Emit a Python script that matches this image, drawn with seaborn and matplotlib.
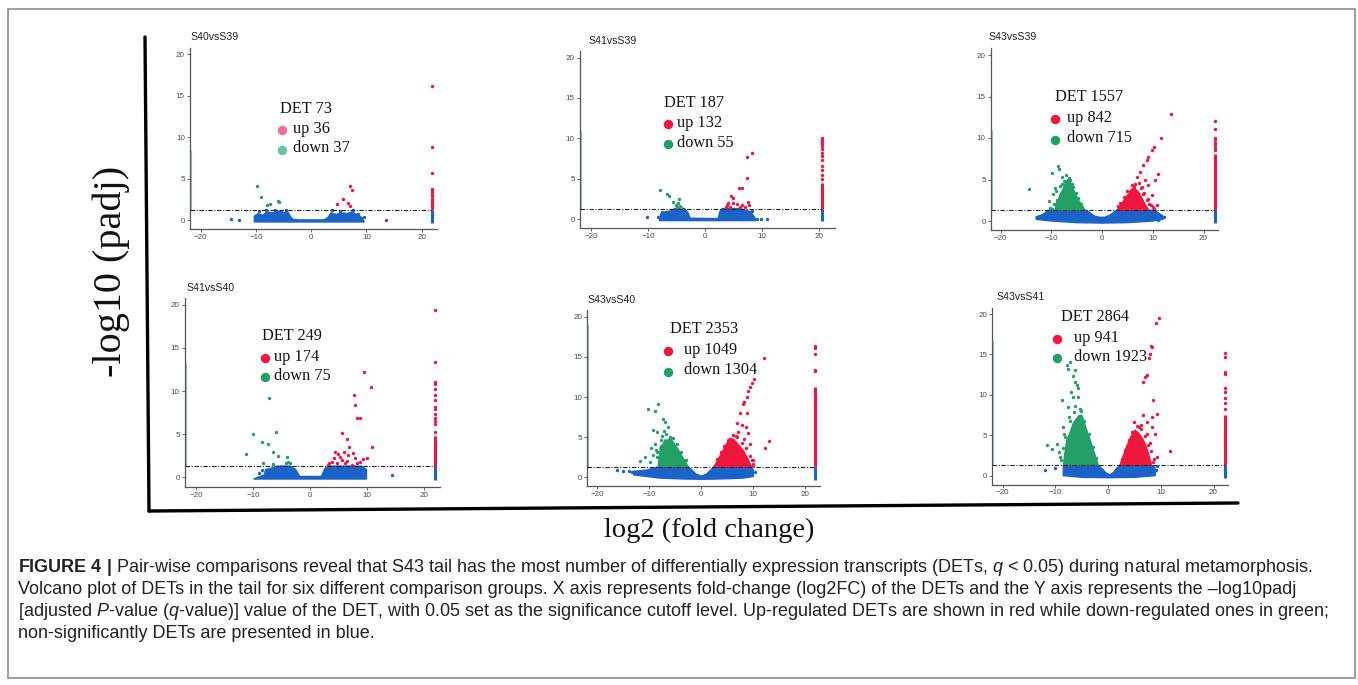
import numpy as np
import matplotlib
matplotlib.use("Agg")
import matplotlib.pyplot as plt
import seaborn as sns
from matplotlib.lines import Line2D
from matplotlib.patches import Rectangle

# ---- data ---------------------------------------------------------------
panels = ["S40vsS39", "S41vsS39", "S43vsS39", "S41vsS40", "S43vsS40", "S43vsS41"]
det_total = [73, 187, 1557, 249, 2353, 2864]
det_up = [36, 132, 842, 174, 1049, 941]
det_down = [37, 55, 715, 75, 1304, 1923]

padj_cut = -np.log10(0.05)
x_ticks = [-20, -10, 0, 10, 20]
y_ticks = [0, 5, 10, 15, 20]

# scattered significant points (log2FC, -log10 padj)
red_pts = {
    "S40vsS39": [(4.6, 2.0), (5.69, 2.61), (6.65, 2.13), (7.0, 4.18), (7.44, 3.66), (7.07, 1.73)],
    "S41vsS39": [(7.31, 7.64), (8.19, 8.14), (7.37, 5.12), (5.9, 3.8), (6.55, 3.8), (4.5, 2.85),
                 (4.85, 2.56), (3.8, 1.74), (4.1, 1.94), (5.55, 1.86), (6.43, 1.74), (7.6, 2.15),
                 (7.78, 1.74), (3.63, 1.53), (4.39, 1.53), (4.97, 2.0), (6.14, 1.53), (7.0, 1.53)],
    "S43vsS39": [(13.55, 12.85), (11.6, 10.04), (10.26, 8.96), (9.8, 8.55), (9.14, 7.75), (8.8, 7.35),
                 (8.16, 6.75), (7.5, 5.94), (11.1, 5.66), (10.46, 4.94), (6.84, 5.34), (8.5, 4.94),
                 (7.83, 4.14), (9.14, 4.34), (6.2, 4.14), (9.8, 3.13), (10.8, 1.93), (8.8, 2.53),
                 (7.5, 2.33), (10.1, 1.73), (7.2, 4.6), (8.0, 3.3), (9.3, 2.0),
                 (3.6, 2.2), (4.3, 2.9), (5.0, 3.6), (5.8, 4.3), (6.5, 4.5), (7.6, 4.0), (8.3, 3.4),
                 (9.0, 2.6), (9.6, 1.9), (3.2, 1.8), (6.0, 3.9), (10.3, 1.5)],
    "S41vsS40": [(9.47, 12.2), (10.7, 10.5), (7.78, 9.5), (7.9, 8.4), (8.3, 6.85), (8.77, 6.85),
                 (5.56, 5.1), (6.43, 4.45), (10.8, 3.48), (6.9, 3.56), (7.6, 2.86), (4.39, 2.98),
                 (4.97, 2.7), (5.96, 2.98), (6.72, 2.6), (8.77, 1.82), (9.36, 2.09), (9.94, 2.2),
                 (3.8, 1.82), (3.4, 1.62), (4.68, 1.62), (5.56, 2.0), (6.14, 1.62), (7.3, 1.43),
                 (8.19, 1.7), (5.26, 2.4), (7.9, 2.2), (3.2, 1.4), (4.2, 2.2), (6.5, 1.9)],
    "S43vsS40": [(12.05, 14.9), (10.1, 12.2), (9.8, 11.7), (9.36, 11.3), (9.0, 10.7), (8.7, 10.0),
                 (8.2, 9.4), (7.95, 9.1), (13.1, 4.5), (12.2, 3.6), (7.4, 8.0), (8.7, 8.0),
                 (6.8, 6.7), (7.75, 6.5), (8.6, 6.3), (9.0, 5.5), (9.36, 4.2), (9.7, 2.2),
                 (10.0, 1.7), (7.0, 5.6), (8.2, 4.8), (6.6, 5.2),
                 (3.0, 2.3), (3.7, 3.1), (4.4, 3.9), (5.1, 4.7), (6.0, 5.3), (6.8, 5.0), (7.8, 4.3),
                 (8.5, 3.6), (9.3, 2.6), (10.0, 2.2), (9.9, 1.5)],
    "S43vsS41": [(9.7, 19.5), (9.05, 18.85), (8.2, 16.0), (8.35, 15.9), (7.97, 15.1), (7.8, 14.6),
                 (7.34, 12.45), (7.0, 12.25), (6.58, 11.6), (8.5, 9.4), (9.37, 7.6), (8.3, 7.3),
                 (7.34, 6.7), (6.7, 7.5), (11.8, 3.0), (8.3, 6.06), (8.9, 5.2), (7.34, 5.2),
                 (7.97, 4.0), (9.24, 2.35), (8.6, 1.7), (6.2, 6.3), (5.8, 6.0),
                 (2.6, 2.1), (3.2, 3.2), (3.9, 4.4), (4.6, 5.4), (5.4, 6.1), (6.2, 5.8), (7.0, 4.9),
                 (7.6, 3.8), (8.1, 3.0), (8.7, 2.1), (4.9, 6.6)],
}
green_pts = {
    "S40vsS39": [(-9.75, 4.18), (-9.1, 2.77), (-8.06, 1.81), (-7.46, 2.01), (-6.07, 2.33), (-5.9, 2.2)],
    "S41vsS39": [(-7.9, 3.6), (-6.6, 3.06), (-6.26, 2.89), (-5.56, 2.15), (-4.68, 2.02), (-4.56, 2.48),
                 (-5.15, 1.74), (-4.85, 1.45), (-4.4, 1.6), (-4.2, 1.4)],
    "S43vsS39": [(-14.5, 3.8), (-8.6, 6.6), (-8.5, 6.3), (-9.9, 5.8), (-8.0, 5.3), (-6.8, 4.9),
                 (-9.6, 3.3), (-8.95, 2.5), (-6.3, 5.0), (-5.66, 4.1), (-7.2, 5.6), (-7.6, 4.8),
                 (-6.6, 5.2), (-9.4, 2.0), (-10.2, 1.6), (-9.8, 1.4),
                 (-9.0, 3.6), (-8.4, 4.2), (-7.9, 4.5), (-6.0, 4.4), (-5.2, 3.4), (-4.8, 2.8),
                 (-4.2, 2.1), (-3.9, 1.7), (-10.5, 2.4), (-9.2, 4.0)],
    "S41vsS40": [(-7.13, 9.25), (-10.06, 5.0), (-5.96, 5.2), (-11.3, 2.75), (-8.36, 4.06), (-7.3, 3.87),
                 (-6.43, 2.98), (-5.56, 2.48), (-8.2, 1.62), (-6.43, 1.5), (-3.98, 2.4), (-3.8, 1.82),
                 (-4.2, 1.62), (-3.5, 1.62)],
    "S43vsS40": [(-10.2, 8.5), (-8.27, 9.1), (-8.9, 8.2), (-7.4, 7.2), (-7.0, 6.9), (-9.2, 5.9),
                 (-8.46, 5.6), (-6.35, 6.3), (-11.8, 2.07), (-10.8, 2.57), (-9.9, 1.95), (-8.9, 4.2),
                 (-7.8, 4.65), (-6.0, 5.06), (-7.2, 5.8), (-8.6, 3.2),
                 (-8.6, 2.5), (-8.8, 3.4), (-7.6, 5.2), (-6.7, 5.4), (-5.5, 4.9), (-4.7, 4.1),
                 (-3.9, 3.1), (-3.0, 2.1), (-9.3, 2.8), (-9.6, 3.6)],
    "S43vsS41": [(-7.2, 14.1), (-7.85, 13.7), (-7.7, 13.15), (-6.27, 13.1), (-6.7, 12.3), (-6.27, 11.6),
                 (-5.95, 11.2), (-5.63, 10.8), (-8.8, 9.4), (-7.7, 8.5), (-6.6, 9.8), (-5.63, 9.8),
                 (-9.75, 3.9), (-10.7, 3.3), (-11.5, 3.8), (-9.1, 2.35), (-8.5, 6.06), (-7.5, 7.3),
                 (-8.2, 4.8), (-6.2, 8.6), (-5.4, 8.2), (-7.0, 10.4),
                 (-8.9, 2.0), (-8.6, 3.4), (-8.3, 5.2), (-7.2, 6.8), (-6.4, 7.9), (-5.2, 8.0),
                 (-4.6, 6.8), (-3.7, 5.2), (-2.9, 3.5), (-2.3, 2.2), (-9.4, 2.9)],
}
blue_pts = {
    "S40vsS39": [(-14.6, 0.2), (-13.1, 0.0), (13.5, 0.0), (-9.5, 1.1), (-8.2, 1.2), (-6.5, 1.25),
                 (-5.5, 1.15), (-4.5, 1.25), (3.8, 1.2), (5.2, 1.1), (7.5, 1.2), (8.5, 0.8), (9.5, 0.4)],
    "S41vsS39": [(-10.1, 0.29), (-8.2, 0.29), (-6.84, 0.79), (-7.5, 0.9), (9.06, 0.0), (9.9, 0.0),
                 (10.8, 0.0), (8.5, 0.29), (8.3, 1.0)],
    "S43vsS39": [(-12.9, 0.5), (-11.7, 0.5), (-11.25, 0.3), (-10.8, 0.9), (7.7, 0.6), (9.8, 0.9),
                 (12.2, 0.5), (11.1, 0.1), (10.8, 0.7)],
    "S41vsS40": [(14.3, 0.3), (-9.0, 0.5), (-8.5, 0.8), (9.2, 0.3), (8.5, 0.0)],
    "S43vsS40": [(-16.3, 0.9), (-15.1, 0.75), (-14.0, 0.8), (-13.3, 0.7), (8.1, 0.9), (9.4, 0.5), (10.3, 0.6)],
    "S43vsS41": [(-12.0, 0.7), (-10.0, 1.0), (9.1, 0.7), (9.3, 1.2), (8.8, 0.3)],
}

# outlines of the dense point clouds
blue_cloud = {
    "S40vsS39": [(-10.3, -0.2), (-10.3, 0.5), (-9.6, 0.8), (-8.8, 0.6), (-8.0, 1.0), (-7.0, 0.9), (-6.0, 1.1),
                 (-5.0, 0.9), (-4.3, 1.1), (-3.9, 0.6), (-3.4, 0.15), (-2.5, 0.05), (2.3, 0.05), (3.0, 0.3),
                 (3.6, 0.9), (4.5, 0.7), (5.5, 0.9), (6.5, 0.8), (7.3, 1.0), (8.0, 0.8), (8.8, 0.5),
                 (9.3, 0.25), (9.6, -0.2)],
    "S41vsS39": [(-8.0, -0.2), (-7.8, 0.6), (-7.0, 0.9), (-6.0, 1.0), (-5.3, 1.3), (-3.6, 1.3), (-3.0, 0.8),
                 (-2.6, 0.1), (2.3, 0.05), (2.6, 0.9), (3.0, 1.3), (6.0, 1.3), (7.0, 1.1), (8.0, 0.9),
                 (8.5, 0.4), (9.0, -0.2)],
    "S43vsS39": [(-13.0, 0.5), (-12.0, 0.7), (-10.5, 1.3), (-3.2, 1.3), (-2.4, 1.0), (-1.5, 0.6),
                 (-0.5, 0.45), (0.5, 0.45), (1.5, 0.7), (2.9, 1.3), (10.5, 1.3), (11.0, 1.0), (12.0, 0.6),
                 (12.0, 0.2), (10.0, 0.0), (5.0, -0.2), (0.0, -0.25), (-5.0, -0.2), (-10.0, 0.0), (-13.0, 0.2)],
    "S41vsS40": [(-9.9, -0.2), (-8.0, 0.3), (-7.8, 0.9), (-6.5, 1.1), (-5.5, 1.3), (-3.5, 1.3), (-2.5, 0.9),
                 (-1.8, 0.1), (2.0, 0.1), (2.6, 1.0), (3.2, 1.3), (9.0, 1.3), (9.9, 0.9), (9.9, -0.2)],
    "S43vsS40": [(-13.0, 0.75), (-10.5, 0.9), (-8.3, 1.3), (-2.5, 1.3), (-1.8, 0.9), (-1.0, 0.4),
                 (0.0, 0.15), (1.0, 0.4), (1.8, 0.9), (2.4, 1.3), (9.7, 1.3), (10.0, 0.9), (10.0, 0.1),
                 (8.0, -0.1), (4.0, -0.2), (0.0, -0.25), (-4.0, -0.2), (-8.0, -0.1), (-13.0, 0.3)],
    "S43vsS41": [(-8.5, 0.9), (-8.5, 1.3), (-1.86, 1.3), (-1.2, 0.9), (-0.5, 0.4), (0.3, 0.1), (1.0, 0.4),
                 (1.6, 0.9), (2.26, 1.3), (8.27, 1.3), (8.9, 1.0), (8.9, 0.0), (5.0, -0.2), (0.0, -0.25),
                 (-5.0, -0.2), (-8.5, 0.0)],
}
green_cloud = {
    "S43vsS39": [(-9.3, 1.3), (-9.0, 2.2), (-8.6, 2.6), (-8.3, 3.2), (-7.8, 3.7), (-7.4, 4.4), (-6.8, 5.0),
                 (-6.2, 4.6), (-5.9, 4.0), (-5.5, 3.6), (-5.0, 2.9), (-4.6, 2.5), (-3.4, 1.3)],
    "S43vsS40": [(-8.3, 1.3), (-8.0, 3.0), (-7.9, 3.8), (-7.3, 4.2), (-7.0, 4.65), (-6.5, 4.6), (-6.0, 4.9),
                 (-5.2, 4.2), (-4.4, 3.4), (-3.4, 2.3), (-2.5, 1.3)],
    "S43vsS41": [(-8.5, 1.3), (-8.2, 2.8), (-7.85, 4.4), (-7.3, 5.2), (-6.6, 6.5), (-5.6, 7.4), (-5.0, 7.5),
                 (-4.2, 5.9), (-3.4, 4.4), (-2.6, 2.8), (-1.86, 1.3)],
}
red_cloud = {
    "S43vsS39": [(2.9, 1.3), (3.8, 2.0), (4.8, 3.0), (5.2, 3.2), (5.6, 3.7), (6.3, 4.0), (7.0, 3.6),
                 (7.4, 3.3), (7.8, 2.8), (8.5, 2.0), (9.2, 1.3)],
    "S43vsS40": [(2.44, 1.3), (3.2, 2.2), (3.9, 3.0), (4.7, 4.0), (5.5, 4.85), (6.3, 4.7), (7.45, 3.8),
                 (8.1, 3.3), (8.7, 2.6), (9.3, 1.8), (9.7, 1.3)],
    "S43vsS41": [(2.26, 1.3), (2.9, 2.5), (3.5, 3.6), (4.3, 4.8), (5.1, 5.65), (5.9, 5.2), (6.7, 4.4),
                 (7.2, 3.6), (7.63, 2.8), (8.27, 1.3)],
}

# transcripts with infinite fold change pile up in a column at the right edge
col_x = [21.8, 20.5, 22.3, 22.0, 21.9, 22.1]
col_red_top = [1.3, 4.5, 8.1, 4.8, 11.3, 7.5]
col_red_dots = [
    [1.5, 1.7, 1.9, 2.1, 2.3, 2.6, 2.9, 3.2, 3.4, 3.6, 3.8, 5.75, 8.88, 16.24],
    [5.0, 5.5, 6.1, 6.6, 7.3, 7.8, 8.2, 8.7, 9.0, 9.3, 9.6, 9.8, 10.0],
    [8.5, 8.8, 9.1, 9.4, 9.7, 10.0, 11.1, 12.05],
    [5.3, 6.2, 6.5, 6.9, 7.3, 7.9, 8.2, 9.0, 9.5, 10.3, 10.8, 11.1, 13.4, 19.4],
    [13.2, 13.4, 15.4, 16.1, 16.4],
    [8.2, 9.0, 9.6, 10.3, 10.8, 12.6, 12.8, 14.7, 15.2],
]
col_green_top = [8.5, 11.0, 11.0, 13.4, 19.0, 16.8]

# ---- layout (pixels of the 1358x685 figure) ------------------------------
W, H = 1358, 685
RED, GREEN, BLUE = "#F0173F", "#24A067", "#1B63C8"
XLIM, YLIM = (-22, 22.8), (-1.1, 20.8)
# x pixel of tick -20, px per unit, y pixel of tick 0, px per unit
ax_pix = [(200.7, 5.525, 220.3, 8.3), (591, 5.7, 219, 8.07), (1000.7, 5.07, 221, 8.3),
          (196, 5.7, 477.3, 8.62), (597.3, 5.2, 477.3, 8.03), (1002.7, 5.27, 475.7, 8.08)]
title_pix = [(190, 37), (588, 41), (988, 37), (186, 288), (587, 300), (996, 297)]
# DET label (x, y), legend dot x, legend text x, up row y, down row y
leg_pix = [(280, 109, 281.5, 293, 129, 148.5), (664, 103, 667.7, 677, 123, 143),
           (1055, 97, 1054.5, 1067, 117.5, 138.5), (262, 336, 265, 274.5, 356.5, 375.5),
           (670, 329, 667.7, 683.5, 349.5, 370.5), (1061, 317, 1056.7, 1073.5, 338, 357)]


def fx(x):
    return x / W


def fy(y):
    return 1 - y / H


sns.set_theme(style="white")
plt.rcParams["font.family"] = ["Liberation Sans", "DejaVu Sans"]
plt.rcParams["mathtext.fontset"] = "custom"
plt.rcParams["mathtext.rm"] = "Liberation Sans"
plt.rcParams["mathtext.it"] = "Liberation Sans:italic"
plt.rcParams["mathtext.bf"] = "Liberation Sans:bold"

fig = plt.figure(figsize=(W / 100, H / 100), dpi=100)
fig.patch.set_facecolor("white")

for i, name in enumerate(panels):
    x20, sx, y0, sy = ax_pix[i]
    left = x20 + (XLIM[0] + 20) * sx
    right = x20 + (XLIM[1] + 20) * sx
    bot = y0 - YLIM[0] * sy
    top = y0 - YLIM[1] * sy
    ax = fig.add_axes([fx(left), fy(bot), (right - left) / W, (bot - top) / H])

    bc = np.array(blue_cloud[name])
    ax.fill(bc[:, 0], bc[:, 1], color=BLUE, lw=1.0)
    if name in green_cloud:
        gc = np.array(green_cloud[name])
        ax.fill(gc[:, 0], gc[:, 1], color=GREEN, lw=1.0)
        rc = np.array(red_cloud[name])
        ax.fill(rc[:, 0], rc[:, 1], color=RED, lw=1.0)

    for pts, c in [(blue_pts[name], BLUE), (green_pts[name], GREEN), (red_pts[name], RED)]:
        arr = np.array(pts)
        sns.scatterplot(x=arr[:, 0], y=arr[:, 1], ax=ax, color=c, s=6, linewidth=0, legend=False)

    # edge columns
    ax.vlines(col_x[i], -0.3, padj_cut, color=BLUE, lw=2.2)
    ax.vlines(col_x[i], padj_cut, col_red_top[i], color=RED, lw=2.2)
    dots = col_red_dots[i]
    sns.scatterplot(x=[col_x[i]] * len(dots), y=dots, ax=ax, color=RED, s=6, linewidth=0, legend=False)
    ax.vlines(XLIM[0] + 0.25, padj_cut, col_green_top[i], color=GREEN, lw=0.8, alpha=0.5)

    ax.hlines(padj_cut, XLIM[0], col_x[i], color="#222222", lw=0.8,
              linestyles=[(0, (4, 1.5, 1, 1.5))], zorder=5)

    ax.set_xlim(*XLIM)
    ax.set_ylim(*YLIM)
    ax.set_xticks(x_ticks)
    ax.set_yticks(y_ticks)
    ax.set_xlabel("")
    ax.set_ylabel("")
    ax.tick_params(labelsize=5.8, colors="#4D4D4D", length=2, width=0.6, pad=1.5,
                   left=True, bottom=True)
    for s in ["top", "right"]:
        ax.spines[s].set_visible(False)
    for s in ["left", "bottom"]:
        ax.spines[s].set_color("#555555")
        ax.spines[s].set_linewidth(0.9)
    ax.set_facecolor("none")

    tx, ty = title_pix[i]
    fig.text(fx(tx), fy(ty), name, fontsize=7.6, color="#222222", ha="left", va="center")

    lx, ly, dx, ttx, uy, dy = leg_pix[i]
    up_c, dn_c = (RED, GREEN) if i else ("#F5708E", "#6CC49E")
    fig.text(fx(lx), fy(ly), f"DET {det_total[i]}", family="Liberation Serif", fontsize=11.7,
             ha="left", va="center", color="#111111")
    fig.text(fx(ttx), fy(uy), f"up {det_up[i]}", family="Liberation Serif", fontsize=11.7,
             ha="left", va="center", color="#111111")
    fig.text(fx(ttx), fy(dy), f"down {det_down[i]}", family="Liberation Serif", fontsize=11.7,
             ha="left", va="center", color="#111111")
    fig.add_artist(Line2D([fx(dx)], [fy(uy + 1)], transform=fig.transFigure, marker="o",
                          markersize=5.8, color=up_c, lw=0))
    fig.add_artist(Line2D([fx(dx)], [fy(dy + 1)], transform=fig.transFigure, marker="o",
                          markersize=5.8, color=dn_c, lw=0))

# big hand-drawn axes around the panels
fig.add_artist(Line2D([fx(145), fx(149)], [fy(37), fy(511)], transform=fig.transFigure,
                      color="black", lw=2.4))
fig.add_artist(Line2D([fx(149), fx(1238)], [fy(511), fy(503)], transform=fig.transFigure,
                      color="black", lw=2.4))
fig.text(fx(111), fy(271), "-log10 (padj)", family="Liberation Serif", fontsize=29,
         rotation=90, ha="center", va="center", color="#111111")
fig.text(fx(709), fy(530), "log2 (fold change)", family="Liberation Serif", fontsize=20.5,
         ha="center", va="center", color="#111111")

# outer frame
fig.add_artist(Rectangle((fx(8), fy(678)), (1355 - 8) / W, (678 - 9) / H, transform=fig.transFigure,
                         fill=False, edgecolor="#8C8C8C", lw=1.2))

caption = [
    r"$\mathbf{FIGURE\ 4\ |}$ Pair-wise comparisons reveal that S43 tail has the most number of differentially "
    r"expression transcripts (DETs, $\it{q}$ < 0.05) during natural metamorphosis.",
    "Volcano plot of DETs in the tail for six different comparison groups. X axis represents fold-change "
    "(log2FC) of the DETs and the Y axis represents the \u2013log10padj",
    r"[adjusted $\it{P}$-value ($\it{q}$-value)] value of the DET, with 0.05 set as the significance cutoff "
    r"level. Up-regulated DETs are shown in red while down-regulated ones in green;",
    "non-significantly DETs are presented in blue.",
]
for k, line in enumerate(caption):
    fig.text(fx(18), fy(567 + 22 * k), line, fontsize=13.0, color="#222222", ha="left", va="center")

fig.savefig("out.png", dpi=100, facecolor="white")
